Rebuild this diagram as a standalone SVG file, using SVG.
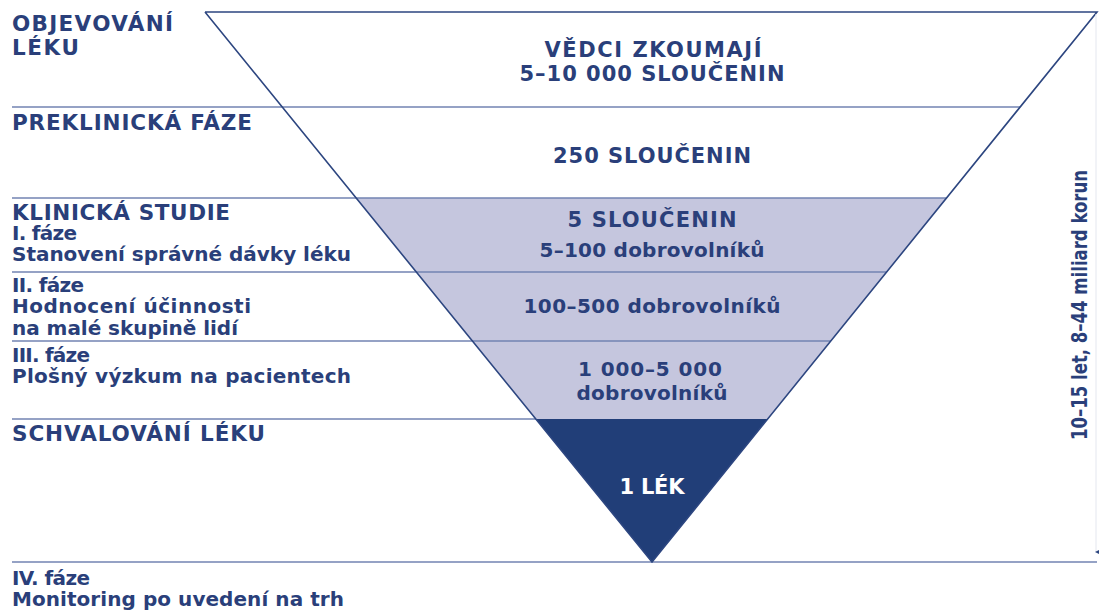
<svg xmlns="http://www.w3.org/2000/svg" width="1099" height="615" viewBox="0 0 1099 615">
<defs>
<style>
.t{font-family:"DejaVu Sans","Open Sans",sans-serif;fill:#2a3f7a}
.cap{font-size:21.5px;font-weight:700}
.sub{font-size:20px;font-weight:700}
.mid{font-size:21px;font-weight:700;text-anchor:middle}
.midn{font-size:20px;font-weight:700;text-anchor:middle}
.sep{stroke:#7283b2;stroke-width:1.5;fill:none}
.edge{stroke:#2d4680;stroke-width:1.6;fill:none}
</style>
<marker id="ah" viewBox="0 0 6 6" refX="3" refY="5" markerWidth="6" markerHeight="6" orient="auto-start-reverse"><path d="M0,0 L6,0 L3,6 Z" fill="#2d4680"/></marker>
</defs>
<rect width="1099" height="615" fill="#ffffff"/>
<g id="funnel">
<polygon points="356.2,198 946.5,198 767.7,419 535.8,419" fill="#c5c6de"/>
<polygon points="535.8,419 767.7,419 652,562" fill="#213e78"/>
</g>
<g id="connectors">
<line class="sep" x1="12" y1="107" x2="1020" y2="107"/>
<line class="sep" x1="12" y1="198" x2="946.5" y2="198"/>
<line class="sep" x1="12" y1="272" x2="886.6" y2="272"/>
<line class="sep" x1="12" y1="341" x2="830.8" y2="341"/>
<line class="sep" x1="12" y1="419" x2="536" y2="419"/>
<line class="sep" x1="12" y1="562" x2="1097" y2="562"/>
<polyline class="edge" points="205,12 1097,12 652,562 205,12"/>
<line x1="1096" y1="14" x2="1096" y2="552" stroke="#e4e7ef" stroke-width="1" marker-end="url(#ah)"/>
</g>
<g id="stage-objevovani">
<text class="t cap" x="12" y="31" textLength="161" lengthAdjust="spacing">OBJEVOVÁNÍ</text>
<text class="t cap" x="12" y="55" textLength="67" lengthAdjust="spacing">LÉKU</text>
<text class="t mid" x="653" y="57" textLength="217" lengthAdjust="spacing">VĚDCI ZKOUMAJÍ</text>
<text class="t mid" x="652" y="81" textLength="265" lengthAdjust="spacing">5–10 000 SLOUČENIN</text>
</g>
<g id="stage-preklinicka">
<text class="t cap" x="12" y="130" textLength="240" lengthAdjust="spacing">PREKLINICKÁ FÁZE</text>
<text class="t mid" x="652" y="163" textLength="198" lengthAdjust="spacing">250 SLOUČENIN</text>
</g>
<g id="stage-faze1">
<text class="t cap" x="12" y="220" textLength="218" lengthAdjust="spacing">KLINICKÁ STUDIE</text>
<text class="t sub" x="12" y="240" textLength="65" lengthAdjust="spacing">I. fáze</text>
<text class="t sub" x="12" y="261" textLength="339" lengthAdjust="spacing">Stanovení správné dávky léku</text>
<text class="t mid" x="652" y="227" textLength="169" lengthAdjust="spacing">5 SLOUČENIN</text>
<text class="t midn" x="652" y="257" textLength="225" lengthAdjust="spacing">5–100 dobrovolníků</text>
</g>
<g id="stage-faze2">
<text class="t sub" x="12" y="292" textLength="72" lengthAdjust="spacing">II. fáze</text>
<text class="t sub" x="12" y="313" textLength="239" lengthAdjust="spacing">Hodnocení účinnosti</text>
<text class="t sub" x="12" y="335" textLength="226" lengthAdjust="spacing">na malé skupině lidí</text>
<text class="t midn" x="652" y="313" textLength="257" lengthAdjust="spacing">100–500 dobrovolníků</text>
</g>
<g id="stage-faze3">
<text class="t sub" x="12" y="362" textLength="78" lengthAdjust="spacing">III. fáze</text>
<text class="t sub" x="12" y="383" textLength="339" lengthAdjust="spacing">Plošný výzkum na pacientech</text>
<text class="t midn" x="650" y="376" textLength="144" lengthAdjust="spacing">1 000–5 000</text>
<text class="t midn" x="652" y="400" textLength="151" lengthAdjust="spacing">dobrovolníků</text>
</g>
<g id="stage-schvalovani">
<text class="t cap" x="12" y="441" textLength="253" lengthAdjust="spacing">SCHVALOVÁNÍ LÉKU</text>
<text class="t mid" x="652" y="494" textLength="65" lengthAdjust="spacing" style="fill:#ffffff">1 LÉK</text>
</g>
<g id="stage-faze4">
<text class="t sub" x="12" y="585" textLength="78" lengthAdjust="spacing">IV. fáze</text>
<text class="t sub" x="12" y="606" textLength="332" lengthAdjust="spacing">Monitoring po uvedení na trh</text>
</g>
<g id="duration">
<text x="0" y="0" transform="translate(1087,305) rotate(-90)" text-anchor="middle" textLength="270" lengthAdjust="spacingAndGlyphs" style="font-family:'Liberation Sans Narrow','DejaVu Sans Condensed','Roboto',sans-serif;font-size:21px;font-weight:700;fill:#2a3f7a">10–15 let, 8–44 miliard korun</text>
</g>
</svg>
